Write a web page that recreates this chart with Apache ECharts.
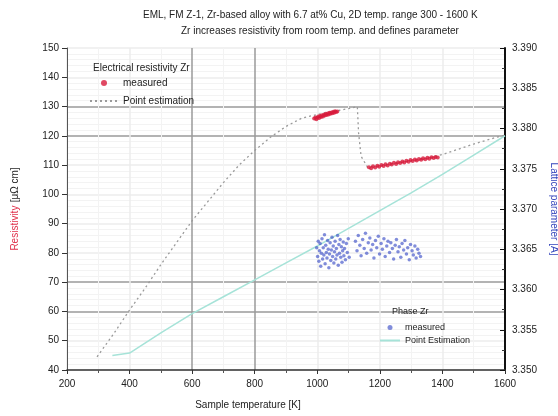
<!DOCTYPE html>
<html>
<head>
<meta charset="utf-8">
<script src="https://cdn.jsdelivr.net/npm/echarts@6/dist/echarts.min.js"></script>
<style>
  html, body { margin: 0; padding: 0; background: #fff; }
  #chart { width: 558px; height: 416px; }
</style>
</head>
<body>
<div id="chart"></div>
<script>
// temperature ticks [K]
var tempTicks = [200, 400, 600, 800, 1000, 1200, 1400, 1600]

// resistivity, point estimation curve [T, rho]
var rhoEstimate = [
  [296, 44.5], [350, 52.5], [400, 60.5], [450, 68], [500, 76], [550, 83.5], [600, 91],
  [650, 97.5], [700, 104], [750, 110], [800, 115], [850, 119.5], [900, 123.2],
  [950, 126], [1000, 127.3], [1050, 128.3], [1100, 129.3], [1128, 130],
  [1132, 121], [1140, 113], [1160, 109.4], [1200, 109.8], [1250, 110.6],
  [1300, 111.5], [1350, 112.3], [1400, 113.6], [1450, 115.4], [1500, 117.2],
  [1550, 118.8], [1600, 120.3]
]

// resistivity, measured [T, rho]
var rhoMeasured = [
  [990, 125.9], [994, 126.3], [997, 125.7], [1000, 126.2], [1003, 126.6], [1006, 126.1],
  [1009, 126.8], [1012, 126.4], [1015, 127.0], [1018, 126.6], [1021, 127.2], [1024, 126.9],
  [1027, 127.5], [1030, 127.1], [1033, 127.6], [1036, 127.3], [1039, 127.9], [1042, 127.5],
  [1045, 128.0], [1048, 127.7], [1051, 128.2], [1054, 127.9], [1057, 128.4], [1060, 128.1],
  [1064, 128.3],
  [1165, 109.3], [1172, 108.9], [1178, 109.6], [1185, 109.2], [1192, 109.8], [1198, 109.4],
  [1205, 110.0], [1212, 109.7], [1218, 110.3], [1225, 109.9], [1232, 110.5], [1238, 110.2],
  [1245, 110.8], [1252, 110.4], [1258, 111.0], [1265, 110.7], [1272, 111.2], [1278, 110.9],
  [1285, 111.5], [1292, 111.1], [1298, 111.7], [1305, 111.4], [1312, 111.9], [1318, 111.6],
  [1325, 112.1], [1332, 111.8], [1338, 112.3], [1345, 112.0], [1352, 112.5], [1358, 112.2],
  [1365, 112.7], [1372, 112.4], [1378, 112.8], [1385, 112.6]
]

// lattice parameter, measured [T, a]
var latMeasured = [
  [998, 3.3652], [1001, 3.3641], [1003, 3.3660], [1005, 3.3635], [1007, 3.3648], [1009, 3.3657],
  [1011, 3.3629], [1013, 3.3645], [1015, 3.3663], [1017, 3.3638], [1019, 3.3652], [1021, 3.3643],
  [1023, 3.3668], [1025, 3.3632], [1027, 3.3655], [1029, 3.3646], [1031, 3.3639], [1033, 3.3661],
  [1035, 3.3650], [1037, 3.3627], [1039, 3.3644], [1041, 3.3658], [1043, 3.3636], [1045, 3.3649],
  [1047, 3.3665], [1049, 3.3641], [1051, 3.3654], [1053, 3.3633], [1055, 3.3647], [1057, 3.3660],
  [1059, 3.3638], [1061, 3.3651], [1063, 3.3643], [1065, 3.3667], [1067, 3.3630], [1069, 3.3656],
  [1071, 3.3645], [1073, 3.3662], [1075, 3.3640], [1077, 3.3653], [1079, 3.3634], [1081, 3.3648],
  [1083, 3.3659], [1085, 3.3642], [1087, 3.3651], [1090, 3.3637], [1093, 3.3657], [1096, 3.3646],
  [1099, 3.3663], [1102, 3.3640],
  [1122, 3.3660], [1127, 3.3648], [1131, 3.3667], [1136, 3.3655], [1140, 3.3642], [1145, 3.3662],
  [1150, 3.3651], [1154, 3.3670], [1158, 3.3645], [1163, 3.3658], [1168, 3.3664], [1172, 3.3649],
  [1177, 3.3656], [1181, 3.3639], [1186, 3.3661], [1190, 3.3652], [1195, 3.3666], [1199, 3.3644],
  [1204, 3.3657], [1208, 3.3650], [1213, 3.3663], [1217, 3.3641], [1222, 3.3654], [1226, 3.3660],
  [1231, 3.3646], [1235, 3.3658], [1240, 3.3651], [1244, 3.3638], [1249, 3.3655], [1253, 3.3662],
  [1258, 3.3647], [1262, 3.3653], [1267, 3.3640], [1271, 3.3657], [1276, 3.3649], [1280, 3.3661],
  [1285, 3.3644], [1289, 3.3652], [1294, 3.3637], [1298, 3.3656], [1303, 3.3648], [1307, 3.3643],
  [1312, 3.3654], [1316, 3.3639], [1321, 3.3650], [1325, 3.3645], [1330, 3.3641]
]

// lattice parameter, point estimation [T, a]
var latEstimate = [
  [345, 3.3518], [400, 3.3521], [500, 3.3546], [600, 3.3570], [700, 3.3591], [800, 3.3612],
  [900, 3.3633], [1000, 3.3654], [1100, 3.3676], [1200, 3.3698], [1300, 3.3720],
  [1400, 3.3743], [1500, 3.3767], [1600, 3.3791]
]

var legendNames = {
  'rho measured': 'measured',
  'rho estimate': 'Point estimation',
  'lat measured': 'measured',
  'lat estimate': 'Point Estimation'
}

var font = 'Liberation Sans'
var chart = echarts.init(document.getElementById('chart'))

// grid line pattern: two darker lines every six ticks
var gridColors = ['#ececec', '#ececec', '#9a9a9a', '#9a9a9a', '#ececec', '#ececec']

chart.setOption({
  animation: false,
  textStyle: { fontFamily: font },
  title: [{
    text: 'EML, FM Z-1, Zr-based alloy with 6.7 at% Cu, 2D temp. range 300 - 1600 K',
    left: 138, top: 5,
    textStyle: { fontSize: 10, fontWeight: 'normal', color: '#222', fontFamily: font }
  }, {
    text: 'Zr increases resistivity from room temp. and defines parameter',
    left: 176, top: 21,
    textStyle: { fontSize: 10, fontWeight: 'normal', color: '#222', fontFamily: font }
  }, {
    text: 'Electrical resistivity Zr',
    left: 88, top: 58,
    textStyle: { fontSize: 10, fontWeight: 'normal', color: '#222', fontFamily: font }
  }, {
    text: 'Phase Zr',
    left: 387, top: 302,
    textStyle: { fontSize: 9, fontWeight: 'normal', color: '#222', fontFamily: font }
  }],
  legend: [{
    orient: 'vertical',
    left: 84, top: 73,
    itemGap: 8,
    itemWidth: 28, itemHeight: 6,
    selectedMode: false,
    formatter: function (n) { return legendNames[n] },
    textStyle: { fontSize: 10, color: '#222', fontFamily: font },
    data: [
      { name: 'rho measured', icon: 'circle' },
      { name: 'rho estimate', itemStyle: { opacity: 0 } }
    ]
  }, {
    orient: 'vertical',
    left: 374, top: 318,
    itemGap: 4,
    itemWidth: 20, itemHeight: 5,
    selectedMode: false,
    formatter: function (n) { return legendNames[n] },
    textStyle: { fontSize: 9, color: '#222', fontFamily: font },
    data: [
      { name: 'lat measured', icon: 'circle' },
      { name: 'lat estimate', itemStyle: { opacity: 0 } }
    ]
  }],
  grid: { left: 67, right: 53, top: 48, bottom: 46, outerBoundsMode: 'none' },
  xAxis: {
    type: 'value',
    min: tempTicks[0], max: tempTicks[tempTicks.length - 1], interval: 200,
    name: 'Sample temperature [K]',
    nameLocation: 'middle',
    nameGap: 30,
    nameTextStyle: { fontSize: 10, color: '#222', padding: [0, 76, 0, 0] },
    axisLine: { lineStyle: { color: '#333', width: 1.5 } },
    axisTick: { lineStyle: { color: '#333' }, length: 4 },
    minorTick: { show: true, splitNumber: 2, length: 3, lineStyle: { color: '#555' } },
    axisLabel: { fontSize: 10, color: '#222', margin: 9, formatter: function (v) { return String(v) } },
    splitLine: { show: true, lineStyle: { color: gridColors, width: 1.5 } },
    minorSplitLine: { show: true, lineStyle: { color: '#f3f3f3' } }
  },
  yAxis: [{
    type: 'value',
    min: 40, max: 150, interval: 10,
    name: '{r|Resistivity} {k|[μΩ cm]}',
    nameLocation: 'middle',
    nameGap: 46,
    nameTextStyle: {
      rich: {
        r: { color: '#e0304a', fontSize: 10, fontFamily: font },
        k: { color: '#222', fontSize: 10, fontFamily: font }
      }
    },
    axisLine: { show: true, lineStyle: { color: '#555', width: 1 } },
    axisTick: { inside: false, length: 5, lineStyle: { color: '#333' } },
    axisLabel: { fontSize: 10, color: '#222', margin: 8 },
    splitLine: { show: true, lineStyle: { color: gridColors, width: 1.5 } },
    minorSplitLine: { show: true, lineStyle: { color: '#f3f3f3' } }
  }, {
    type: 'value',
    min: 3.350, max: 3.390, interval: 0.005,
    name: 'Lattice parameter [Å]',
    nameLocation: 'middle',
    nameGap: 44,
    nameRotate: -90,
    nameTextStyle: { fontSize: 10, color: '#3344bb' },
    axisLine: { show: true, lineStyle: { color: '#111', width: 2 } },
    axisTick: { inside: true, length: 5, lineStyle: { color: '#111' } },
    minorTick: { show: true, splitNumber: 2, length: 3, lineStyle: { color: '#333' } },
    axisLabel: {
      fontSize: 10, color: '#222', margin: 7,
      formatter: function (v) { return v.toFixed(3) }
    },
    splitLine: { show: false }
  }],
  series: [{
    name: 'rho estimate',
    type: 'line',
    yAxisIndex: 0,
    data: rhoEstimate,
    symbol: 'none',
    color: '#9a9a9a',
    lineStyle: { color: '#9a9a9a', width: 1.3, type: [2, 3] },
    z: 3
  }, {
    name: 'rho measured',
    type: 'scatter',
    yAxisIndex: 0,
    data: rhoMeasured,
    symbol: 'circle',
    symbolSize: 4,
    itemStyle: { color: '#d81b3c' },
    z: 4
  }, {
    name: 'lat estimate',
    type: 'line',
    yAxisIndex: 1,
    data: latEstimate,
    symbol: 'none',
    color: '#a6e3d8',
    lineStyle: { color: '#a6e3d8', width: 1.5 },
    z: 2
  }, {
    name: 'lat measured',
    type: 'scatter',
    yAxisIndex: 1,
    data: latMeasured,
    symbol: 'circle',
    symbolSize: 3.5,
    itemStyle: { color: 'rgba(45,65,195,0.75)' },
    z: 5
  }]
})
</script>
</body>
</html>
